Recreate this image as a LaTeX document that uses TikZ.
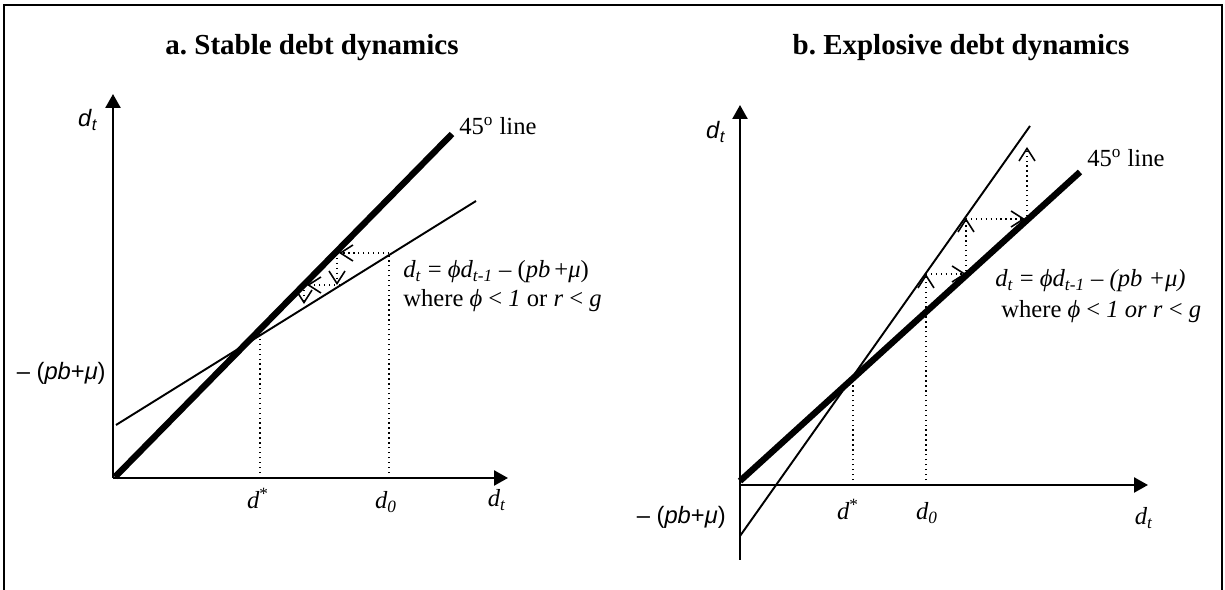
\documentclass[tikz,border=0pt]{standalone}
\usepackage{fontspec}
\setmainfont{Liberation Serif}
\setsansfont{Liberation Sans}
\usepackage{tikz}
\usetikzlibrary{arrows.meta,positioning,calc}
\newcommand{\SfDt}{\textsf{\textit{d}\textsubscript{\textit{t}}}}
\newcommand{\SfPb}{\textsf{– (\textit{pb}+\textit{μ})}}

\begin{document}
\begin{tikzpicture}[
    x=0.02cm, y=-0.02cm,
    axis/.style={line width=1.4pt, -{Triangle[length=0.28cm, width=0.3cm]}},
    fortyfive/.style={line width=3.6pt},
    dyn/.style={line width=1.1pt},
    guide/.style={dotted, line width=0.8pt},
    cob/.style={dotted, line width=0.8pt, -{Straight Barb[length=2.5mm, width=3.2mm, line width=0.9pt]}},
    ttl/.style={font=\bfseries\fontsize{16.5}{20}\selectfont},
    lbl/.style={font=\fontsize{14}{16}\selectfont, inner sep=0pt},
    sflbl/.style={font=\fontsize{13.5}{16}\selectfont, inner sep=0pt},
]
\useasboundingbox (0,0) rectangle (1225,590);
\draw[line width=1.2pt] (4,590) -- (4,5) -- (1222,5) -- (1222,590);

% a. stable
\node[ttl, anchor=base] (tita) at (312,55) {a.\ Stable debt dynamics};
\coordinate (oa) at (113,478);
\coordinate (ya) at (113,94);
\coordinate (xa) at (508,478);
\draw[axis] (oa) -- (ya);
\draw[axis] (oa) -- (xa);
\node[sflbl] (dya) at (88,120) {\SfDt};
\node[sflbl, anchor=east] (pba) at (106,373) {\SfPb};

\coordinate (fa0) at (115,477);
\coordinate (fa1) at (452,134);
\draw[fortyfive] (fa0) -- (fa1);
\coordinate (sa0) at (116,425);
\coordinate (sa1) at (476,201);
\draw[dyn] (sa0) -- (sa1);
\node[lbl, anchor=base west] (fla) at (459,135) {45\textsuperscript{o} line};
\node[lbl, anchor=base west] (eqa) at (403,278) {\textit{d}\textsubscript{\textit{t}} = \textit{ϕd}\textsubscript{\textit{t-1}} – (\textit{pb}\,+\textit{μ})};
\node[lbl, anchor=base west] (wha) at (403,307) {where \textit{ϕ} < \textit{1} or \textit{r} < \textit{g}};

\draw[guide] (260,478) -- (260,329);
\draw[guide] (389,478) -- (389,253);
\draw[cob] (389,253) -- (339,253);
\draw[cob] (337,253) -- (337,285);
\draw[cob] (340,285) -- (307,285);
\draw[cob] (304,285) -- (304,304);

\node[lbl, anchor=base] (dsa) at (258,509) {\textit{d}\textsuperscript{*}};
\node[lbl, anchor=base] (d0a) at (386,509) {\textit{d}\textsubscript{\textit{0}}};
\node[lbl, anchor=base] (dxa) at (497,507) {\textit{d}\textsubscript{\textit{t}}};

% b. explosive
\node[ttl, anchor=base] (titb) at (961,55) {b.\ Explosive debt dynamics};
\coordinate (ob) at (740,485);
\coordinate (bb) at (740,560);
\coordinate (yb) at (740,105);
\coordinate (xb) at (1148,485);
\draw[line width=1.4pt] (bb) -- (ob);
\draw[axis] (ob) -- (yb);
\draw[axis] (ob) -- (xb);
\node[sflbl] (dyb) at (716,132) {\SfDt};
\node[sflbl, anchor=east] (pbb) at (726,517) {\SfPb};

\coordinate (fb0) at (740,481);
\coordinate (fb1) at (1080,172);
\draw[fortyfive] (fb0) -- (fb1);
\coordinate (eb0) at (740,536);
\coordinate (eb1) at (1030,126);
\draw[dyn] (eb0) -- (eb1);
\node[lbl, anchor=base west] (flb) at (1087,167) {45\textsuperscript{o} line};
\node[lbl, anchor=base west] (eqb) at (995,287) {\textit{d}\textsubscript{\textit{t}} = \textit{ϕd}\textsubscript{\textit{t-1}} – \textit{(pb +μ)}};
\node[lbl, anchor=base west] (whb) at (1001,318) {where \textit{ϕ} < \textit{1 or r} < \textit{g}};

\draw[guide] (853,485) -- (853,378);
\draw[cob] (926,485) -- (926,274);
\draw[cob] (926,274) -- (966,274);
\draw[cob] (966,276) -- (966,218);
\draw[cob] (966,219) -- (1025,219);
\draw[cob] (1027,221) -- (1027,147);

\node[lbl, anchor=base] (dsb) at (848,520) {\textit{d}\textsuperscript{*}};
\node[lbl, anchor=base] (d0b) at (927,520) {\textit{d}\textsubscript{\textit{0}}};
\node[lbl, anchor=base] (dxb) at (1144,525) {\textit{d}\textsubscript{\textit{t}}};
\end{tikzpicture}
\end{document}
